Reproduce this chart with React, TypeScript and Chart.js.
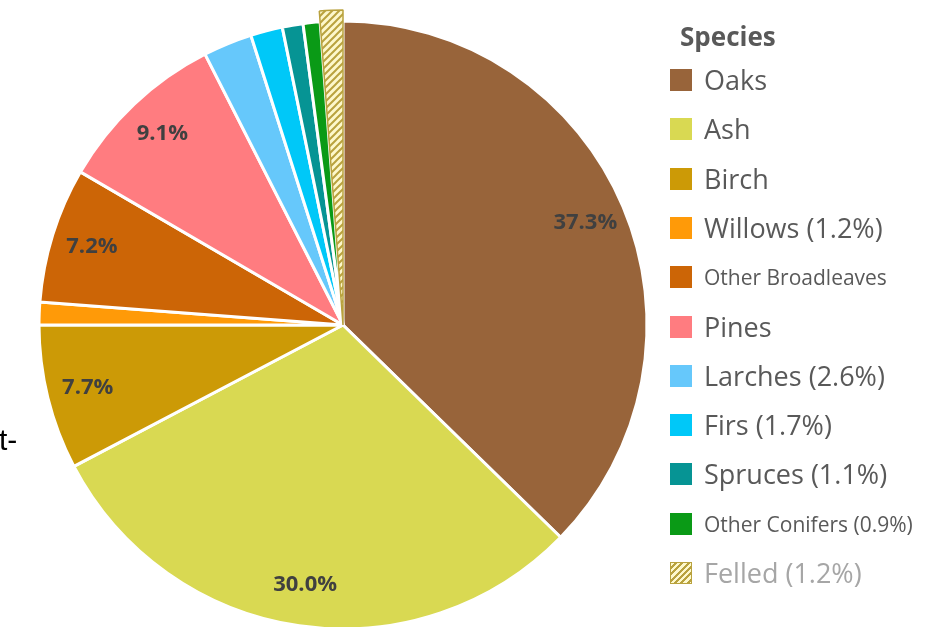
import React, { useEffect, useRef } from "react";
import { Chart, registerables } from "chart.js";

Chart.register(...registerables);

// ---- data ----
const species = [
  "Oaks",
  "Ash",
  "Birch",
  "Willows",
  "Other Broadleaves",
  "Pines",
  "Larches",
  "Firs",
  "Spruces",
  "Other Conifers",
  "Felled",
];
const shares = [37.3, 30.0, 7.7, 1.2, 7.2, 9.1, 2.6, 1.7, 1.1, 0.9, 1.2];
const legendLabels = [
  "Oaks",
  "Ash",
  "Birch",
  "Willows (1.2%)",
  "Other Broadleaves",
  "Pines",
  "Larches (2.6%)",
  "Firs (1.7%)",
  "Spruces (1.1%)",
  "Other Conifers (0.9%)",
  "Felled (1.2%)",
];
const sliceLabels = ["37.3%", "30.0%", "7.7%", "", "7.2%", "9.1%", "", "", "", "", ""];
const legendTitle = "Species";

// ---- styles ----
const colors = [
  "#98643a",
  "#d9d952",
  "#cc9a06",
  "#ff9a08",
  "#cc6506",
  "#ff7c80",
  "#66c8fb",
  "#00c8f8",
  "#069494",
  "#0a9a16",
  "hatch",
];
const legendFontSizes = [27, 27, 27, 27, 21, 27, 27, 27, 27, 21, 27];
const HATCH_BG = "#fdf8cc";
const HATCH_FG = "#b9a23e";

function makeHatch(): CanvasPattern | string {
  const s = 7;
  const c = document.createElement("canvas");
  c.width = s;
  c.height = s;
  const x = c.getContext("2d");
  if (!x) return HATCH_BG;
  x.fillStyle = HATCH_BG;
  x.fillRect(0, 0, s, s);
  x.strokeStyle = HATCH_FG;
  x.lineWidth = 2;
  x.beginPath();
  x.moveTo(0, s);
  x.lineTo(s, 0);
  x.moveTo(-2, 2);
  x.lineTo(2, -2);
  x.moveTo(s - 2, s + 2);
  x.lineTo(s + 2, s - 2);
  x.stroke();
  const p = x.createPattern(c, "repeat");
  return p || HATCH_BG;
}

const extendFelled = {
  id: "extendFelled",
  afterDatasetsUpdate(chart: any) {
    const meta = chart.getDatasetMeta(0);
    const arc = meta.data[species.length - 1];
    if (arc) arc.outerRadius = arc.outerRadius + 11;
  },
};

const sliceLabelPlugin = {
  id: "sliceLabelPlugin",
  afterDatasetsDraw(chart: any) {
    const ctx = chart.ctx;
    const meta = chart.getDatasetMeta(0);
    ctx.save();
    ctx.font = "bold 22px 'Open Sans', 'Noto Sans', sans-serif";
    ctx.fillStyle = "#404040";
    ctx.textAlign = "center";
    ctx.textBaseline = "middle";
    meta.data.forEach((arc: any, i: number) => {
      const t = sliceLabels[i];
      if (!t) return;
      const { x, y, startAngle, endAngle, outerRadius } = arc.getProps(
        ["x", "y", "startAngle", "endAngle", "outerRadius"],
        true
      );
      const mid = (startAngle + endAngle) / 2;
      const r = outerRadius * 0.865;
      ctx.fillText(t, x + Math.cos(mid) * r, y + Math.sin(mid) * r);
    });
    ctx.restore();
  },
};

function PieChart() {
  const ref = useRef<HTMLCanvasElement | null>(null);
  useEffect(() => {
    if (!ref.current) return;
    const hatch = makeHatch();
    const bg = colors.map((c) => (c === "hatch" ? hatch : c));
    const borders = colors.map((c) => (c === "hatch" ? HATCH_FG : "#ffffff"));
    const bw = colors.map((c) => (c === "hatch" ? 1.5 : 3));
    const chart = new Chart(ref.current, {
      type: "pie",
      data: {
        labels: species,
        datasets: [
          {
            data: shares,
            backgroundColor: bg as any,
            borderColor: borders,
            borderWidth: bw,
            radius: 304,
          } as any,
        ],
      },
      options: {
        animation: false,
        responsive: false,
        maintainAspectRatio: false,
        layout: { padding: 0 },
        plugins: {
          legend: { display: false },
          tooltip: { enabled: false },
        },
      },
      plugins: [extendFelled, sliceLabelPlugin],
    });
    return () => chart.destroy();
  }, []);
  return (
    <canvas
      ref={ref}
      width={686}
      height={650}
      style={{ position: "absolute", left: 0, top: 0, width: 686, height: 650 }}
    />
  );
}

function Legend() {
  const top0 = 80;
  const step = 49.3;
  return (
    <>
      <div
        style={{
          position: "absolute",
          left: 680,
          top: 18,
          fontFamily: "'Open Sans', 'Noto Sans', sans-serif",
          fontWeight: 700,
          fontSize: 26,
          color: "#595959",
          lineHeight: "36px",
        }}
      >
        {legendTitle}
      </div>
      {legendLabels.map((lab, i) => {
        const cy = top0 + i * step;
        const isHatch = colors[i] === "hatch";
        return (
          <React.Fragment key={lab}>
            <div
              style={{
                position: "absolute",
                left: 670,
                top: cy - 11,
                width: 22,
                height: 22,
                boxSizing: "border-box",
                background: isHatch
                  ? `repeating-linear-gradient(135deg, ${HATCH_BG} 0px, ${HATCH_BG} 2.5px, ${HATCH_FG} 2.5px, ${HATCH_FG} 4.5px)`
                  : colors[i],
                border: isHatch ? `1px solid ${HATCH_FG}` : "none",
              }}
            />
            <div
              style={{
                position: "absolute",
                left: 704,
                top: cy - 20,
                height: 40,
                lineHeight: "40px",
                fontFamily: "'Open Sans', 'Noto Sans', sans-serif",
                fontSize: legendFontSizes[i],
                color: isHatch ? "#a6a6a6" : "#595959",
                whiteSpace: "nowrap",
              }}
            >
              {lab}
            </div>
          </React.Fragment>
        );
      })}
    </>
  );
}

export default function App() {
  return (
    <div
      style={{
        position: "fixed",
        left: 0,
        top: 0,
        width: 937,
        height: 627,
        overflow: "hidden",
        background: "#ffffff",
      }}
    >
      <PieChart />
      <Legend />
      <div
        style={{
          position: "absolute",
          left: -1,
          top: 420,
          fontFamily: "'Liberation Sans', Arial, sans-serif",
          fontSize: 30,
          lineHeight: "40px",
          color: "#000000",
        }}
      >
        t-
      </div>
    </div>
  );
}
